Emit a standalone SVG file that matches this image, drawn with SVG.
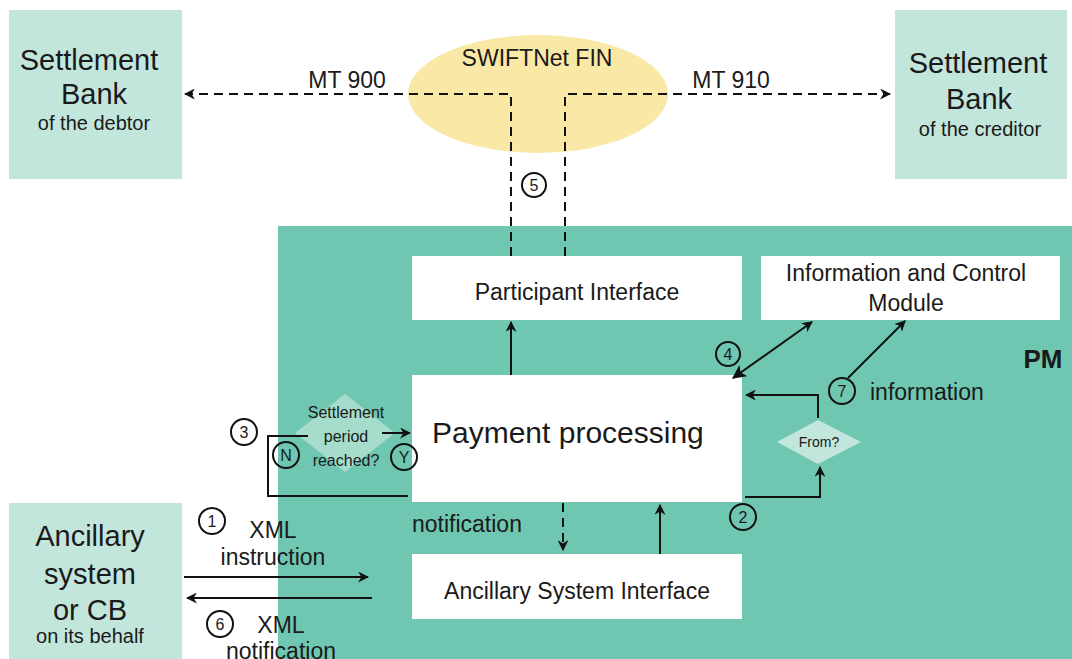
<svg xmlns="http://www.w3.org/2000/svg" width="1072" height="659" viewBox="0 0 1072 659">
<style>
text{font-family:"Liberation Sans",Arial,sans-serif;fill:#1a1a1a}
.c{text-anchor:middle}
.ext{fill:#c3e6dc}
.box{fill:#ffffff}
.ln{fill:none;stroke:#111;stroke-width:2}
.dash{fill:none;stroke:#111;stroke-width:2;stroke-dasharray:9,6}
.num{fill:none;stroke:#111;stroke-width:2}
.nt{font-size:16px;text-anchor:middle}
.dt{font-size:16px;text-anchor:middle}
.big{font-size:29px;text-anchor:middle}
.sub{font-size:20px;text-anchor:middle}
.lb{font-size:23px}
</style>
<defs>
<marker id="ah" viewBox="0 0 10 10" refX="9" refY="5" markerWidth="11" markerHeight="11" markerUnits="userSpaceOnUse" orient="auto-start-reverse">
<path d="M0,0 L10,5 L0,10 L3,5 Z" fill="#111"/>
</marker>
<marker id="ahb" viewBox="0 0 12 12" refX="11" refY="6" markerWidth="14" markerHeight="14" markerUnits="userSpaceOnUse" orient="auto-start-reverse">
<path d="M0,0 L12,6 L0,12 L3,6 Z" fill="#111"/>
</marker>
</defs>

<g id="pm">
<rect x="278" y="226" width="794" height="433" fill="#6fc7b2"/>
<text x="1043" y="368" class="c" style="font-size:26px;font-weight:bold">PM</text>
</g>

<g id="swiftnet">
<ellipse cx="538" cy="94" rx="130" ry="59" fill="#f9e8a6"/>
<text x="537" y="66" class="c lb">SWIFTNet FIN</text>
</g>

<g id="bank-debtor">
<rect class="ext" x="9" y="10" width="173" height="169"/>
<text x="89" y="70" class="big">Settlement</text>
<text x="94" y="104" class="big">Bank</text>
<text x="94" y="130" class="sub">of the debtor</text>
</g>

<g id="bank-creditor">
<rect class="ext" x="895" y="10" width="172" height="169"/>
<text x="978" y="73" class="big">Settlement</text>
<text x="979" y="109" class="big">Bank</text>
<text x="980" y="136" class="sub">of the creditor</text>
</g>

<g id="ancillary-system">
<rect class="ext" x="9" y="503" width="173" height="156"/>
<text x="90" y="546" class="big">Ancillary</text>
<text x="90" y="584" class="big">system</text>
<text x="90" y="620" class="big">or CB</text>
<text x="90" y="643" class="sub">on its behalf</text>
</g>

<g id="participant-interface">
<rect class="box" x="412" y="256" width="330" height="64"/>
<text x="577" y="300" class="c lb">Participant Interface</text>
</g>

<g id="icm">
<rect class="box" x="761" y="256" width="299" height="64"/>
<text x="906" y="281" class="c lb">Information and Control</text>
<text x="906" y="311" class="c lb">Module</text>
</g>

<g id="payment-processing">
<rect class="box" x="412" y="375" width="330" height="127"/>
<text x="432" y="443" style="font-size:30px">Payment processing</text>
</g>

<g id="asi">
<rect class="box" x="412" y="554" width="330" height="65"/>
<text x="577" y="599" class="c lb">Ancillary System Interface</text>
</g>

<g id="settlement-decision">
<path d="M345,394 L395,433 L345,472 L295,433 Z" fill="#a5dccc"/>
<text x="346" y="418" class="dt">Settlement</text>
<text x="346" y="442" class="dt">period</text>
<text x="346" y="466" class="dt">reached?</text>
</g>

<g id="from-decision">
<path d="M818,420 L861,442 L818,464 L777,442 Z" fill="#c3e6dc"/>
<text x="819" y="447" class="c" style="font-size:14px">From?</text>
</g>

<g id="connectors">
<path class="dash" d="M511,256 V94 H185" marker-end="url(#ah)"/>
<path class="dash" d="M565,256 V94 H890" marker-end="url(#ah)"/>
<text x="347" y="88" class="c lb">MT 900</text>
<text x="731" y="88" class="c lb">MT 910</text>
<circle class="num" cx="534" cy="185" r="12"/>
<text x="534" y="191" class="nt">5</text>

<path class="ln" d="M511,375 V322" marker-end="url(#ah)"/>
<path class="ln" d="M733,378 L812,322" marker-start="url(#ahb)" marker-end="url(#ah)"/>
<circle class="num" cx="728" cy="354" r="12"/>
<text x="728" y="360" class="nt">4</text>
<path class="ln" d="M848,378 L905,321" marker-end="url(#ah)"/>
<circle class="num" cx="842" cy="391" r="13"/>
<text x="842" y="397" class="nt">7</text>
<text x="870" y="400" class="lb">information</text>

<path class="ln" d="M818,418 V395 H746" marker-end="url(#ah)"/>
<path class="ln" d="M745,497 H820 V467" marker-end="url(#ah)"/>
<circle class="num" cx="743" cy="517" r="13"/>
<text x="743" y="523" class="nt">2</text>

<path class="ln" d="M408,496 H268 V436 H308"/>
<path class="ln" d="M382,433 H410" marker-end="url(#ah)"/>
<circle class="num" cx="244" cy="432" r="13"/>
<text x="244" y="438" class="nt">3</text>
<circle class="num" cx="286" cy="455" r="13"/>
<text x="286" y="461" class="nt">N</text>
<circle class="num" cx="404" cy="457" r="13"/>
<text x="404" y="463" class="nt">Y</text>

<path class="dash" d="M563,503 V550" marker-end="url(#ah)"/>
<text x="412" y="532" class="lb">notification</text>
<path class="ln" d="M660,554 V505" marker-end="url(#ah)"/>

<path class="ln" d="M184,577 H368" marker-end="url(#ah)"/>
<path class="ln" d="M372,598 H187" marker-end="url(#ah)"/>
<circle class="num" cx="212" cy="521" r="13"/>
<text x="212" y="527" class="nt">1</text>
<text x="273" y="538" class="c lb">XML</text>
<text x="273" y="565" class="c lb">instruction</text>
<circle class="num" cx="220" cy="624" r="13"/>
<text x="220" y="630" class="nt">6</text>
<text x="281" y="633" class="c lb">XML</text>
<text x="281" y="659" class="c lb">notification</text>
</g>
</svg>
